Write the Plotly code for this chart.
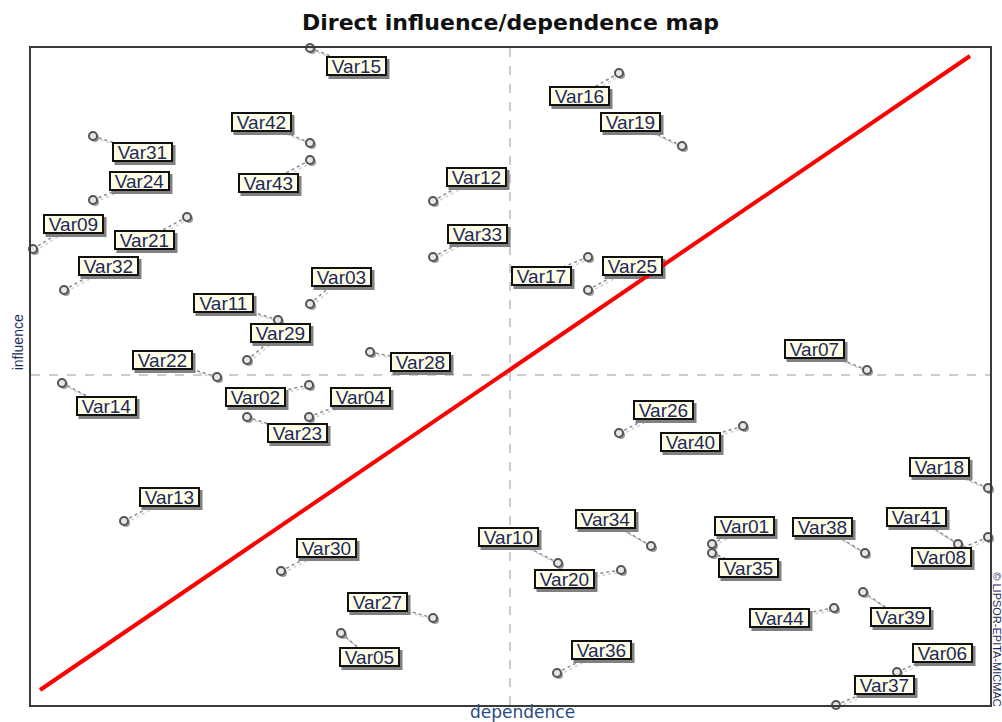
import plotly.graph_objects as go

# ---- data (dependence, influence) ----
names = ["Var01","Var02","Var03","Var04","Var05","Var06","Var07","Var08","Var09","Var10",
         "Var11","Var12","Var13","Var14","Var15","Var16","Var17","Var18","Var19","Var20",
         "Var21","Var22","Var23","Var24","Var25","Var26","Var27","Var28","Var29","Var30",
         "Var31","Var32","Var33","Var34","Var35","Var36","Var37","Var38","Var39","Var40",
         "Var41","Var42","Var43","Var44"]
dependence = [681,278,279,278,310,866,836,957,2,527,
              247,402,93,31,279,588,557,957,651,590,
              156,186,216,62,557,588,402,339,216,250,
              62,33,402,620,681,526,805,834,832,712,
              927,279,279,803]
influence = [161,320,401,288,72,33,335,168,456,142,
             385,504,184,322,657,632,448,217,559,135,
             488,328,288,505,415,272,87,353,345,134,
             569,415,448,159,152,32,0,152,113,279,
             161,562,545,97]

# label offsets from their point (pixels, screen orientation)
label_dx = [32,-54,31,51,28,45,-53,-47,40,-50,
            -55,43,45,44,46,-40,-47,-49,-52,-57,
            -43,-55,50,46,44,44,-56,50,33,45,
            49,44,44,-46,36,44,48,-43,37,-53,
            -42,-49,-42,-55]
label_dy = [-18,12,-27,-20,24,-19,-21,20,-25,-26,
            -17,-24,-24,23,18,23,19,-21,-24,9,
            23,-17,16,-19,-24,-23,-16,10,-27,-23,
            16,-24,-23,-27,15,-23,-20,-26,25,16,
            -27,-21,23,10]

x_range = [0, 959]
y_range = [0, 657]
x_mid = 479
y_mid = 330
diag_x = [9, 939]
diag_y = [15, 649]

BOX_W, BOX_H = 61, 20

fig = go.Figure()

shapes = []
# quadrant dashed lines
shapes.append(dict(type="line", xref="x", yref="y", x0=x_mid, x1=x_mid, y0=y_range[0], y1=y_range[1],
                   line=dict(color="#9a9a9a", width=1, dash="dash"), layer="below"))
shapes.append(dict(type="line", xref="x", yref="y", x0=x_range[0], x1=x_range[1], y0=y_mid, y1=y_mid,
                   line=dict(color="#9a9a9a", width=1, dash="dash"), layer="below"))
# leader lines
for x, y, dx, dy in zip(dependence, influence, label_dx, label_dy):
    lx, ly = x + dx, y - dy
    shapes.append(dict(type="line", xref="x", yref="y", x0=x + 2, y0=y - 2, x1=lx + 2, y1=ly - 2,
                       line=dict(color="#d0d0d0", width=1.5, dash="dot"), layer="below"))
    shapes.append(dict(type="line", xref="x", yref="y", x0=x, y0=y, x1=lx, y1=ly,
                       line=dict(color="#8a8a8a", width=1.5, dash="dot"), layer="below"))
# label box shadows
for x, y, dx, dy in zip(dependence, influence, label_dx, label_dy):
    lx, ly = x + dx, y - dy
    shapes.append(dict(type="rect", xref="x", yref="y",
                       x0=lx - BOX_W / 2 + 3, x1=lx + BOX_W / 2 + 3,
                       y0=ly - BOX_H / 2 - 3, y1=ly + BOX_H / 2 - 3,
                       fillcolor="#808080", line=dict(width=0), layer="above"))
# diagonal
shapes.append(dict(type="line", xref="x", yref="y", x0=diag_x[0], y0=diag_y[0], x1=diag_x[1], y1=diag_y[1],
                   line=dict(color="#ff0000", width=4), layer="above"))

# point shadows and points
fig.add_trace(go.Scatter(x=[v + 2 for v in dependence], y=[v - 2 for v in influence], mode="markers",
                         marker=dict(size=8, color="#9c9c9c", line=dict(width=0)),
                         hoverinfo="skip", cliponaxis=False, showlegend=False))
fig.add_trace(go.Scatter(x=dependence, y=influence, mode="markers", text=names,
                         marker=dict(size=8, color="#e8e8e0", line=dict(width=2, color="#555555")),
                         hovertemplate="%{text}<br>dependence %{x}<br>influence %{y}<extra></extra>",
                         cliponaxis=False, showlegend=False))

annotations = []
FONT = "Liberation Sans, Arial, sans-serif"
WIDE = "DejaVu Sans, Verdana, sans-serif"
label_font = dict(family=FONT, size=19, color="#1b2a5c")
for n, x, y, dx, dy in zip(names, dependence, influence, label_dx, label_dy):
    lx, ly = x + dx, y - dy
    annotations.append(dict(x=lx, y=ly, xref="x", yref="y", text=n, showarrow=False,
                            width=BOX_W - 4, height=BOX_H - 4,
                            bgcolor="#fffde6", bordercolor="#111111", borderwidth=2, borderpad=0,
                            font=label_font))

annotations.append(dict(x=0.5, y=1.0, xref="paper", yref="paper", yanchor="middle", yshift=26,
                        text="<b>Direct influence/dependence map</b>",
                        showarrow=False, font=dict(family=WIDE, size=22, color="#111111")))
annotations.append(dict(x=0.512, y=0, xref="paper", yref="paper", yanchor="middle", yshift=-7,
                        text="dependence",
                        showarrow=False, font=dict(family=WIDE, size=17, color="#2a4a85")))
annotations.append(dict(x=0, y=0.552, xref="paper", yref="paper", xanchor="center", yanchor="middle",
                        xshift=-13, text="influence", textangle=-90,
                        showarrow=False, font=dict(family=FONT, size=14, color="#1b2a5c")))
annotations.append(dict(x=1, y=0.1, xref="paper", yref="paper", xanchor="center", yanchor="middle",
                        xshift=7, text="© LIPSOR-EPITA-MICMAC", textangle=90,
                        showarrow=False, font=dict(family=FONT, size=11, color="#1b2a5c")))

fig.update_layout(
    width=1002, height=722,
    margin=dict(l=31, r=12, t=48, b=17, autoexpand=False),
    paper_bgcolor="white", plot_bgcolor="white",
    shapes=shapes, annotations=annotations,
    xaxis=dict(range=x_range, showgrid=False, zeroline=False, showticklabels=False, ticks="",
               showline=True, mirror=True, linecolor="#3a3a3a", linewidth=2, automargin=False),
    yaxis=dict(range=y_range, showgrid=False, zeroline=False, showticklabels=False, ticks="",
               showline=True, mirror=True, linecolor="#3a3a3a", linewidth=2, automargin=False),
)

fig.write_html("out.html", config={"displayModeBar": False},
               post_script="document.body.style.margin='0px';document.body.style.overflow='hidden';")
